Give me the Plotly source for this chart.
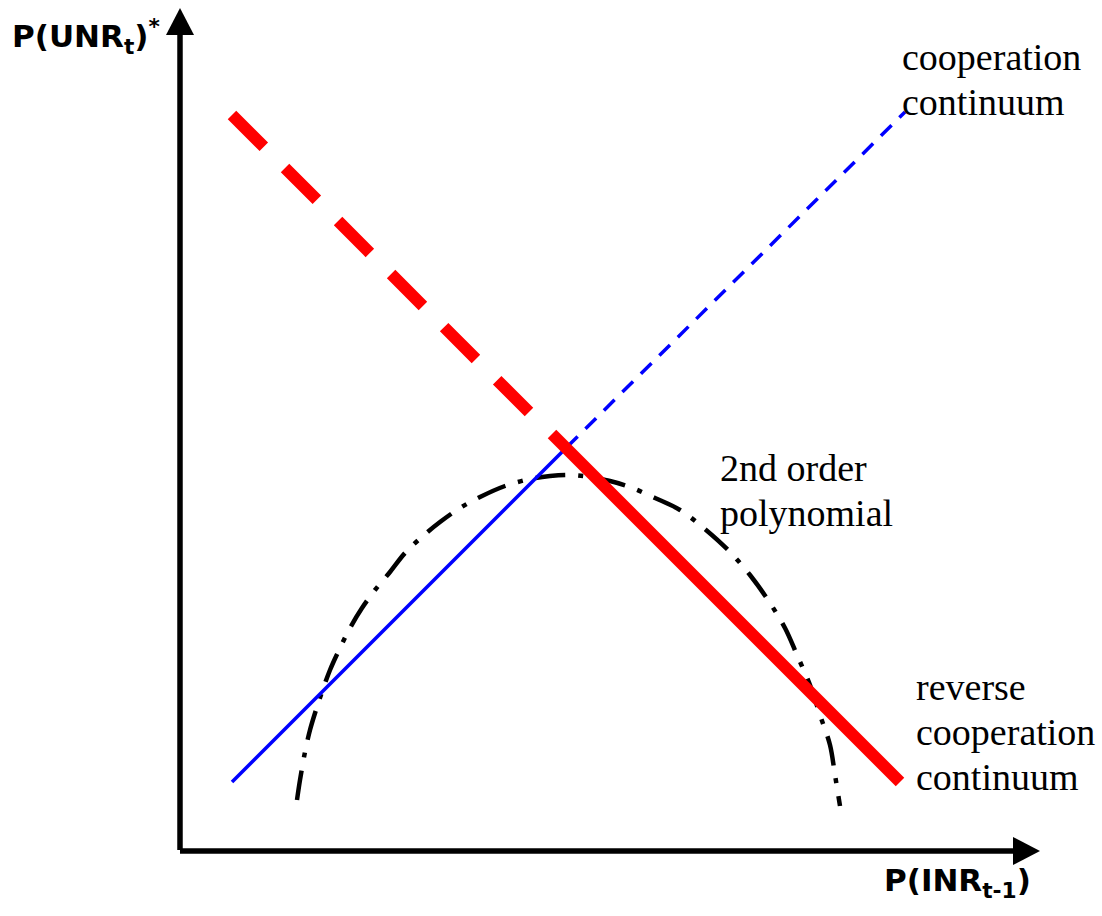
import plotly.graph_objects as go

# ---- data (chart units: origin at axis crossing) ----
blue_solid_x = [0.52, 3.87]
blue_solid_y = [0.70, 4.05]
blue_dash_x = [3.87, 7.25]
blue_dash_y = [4.05, 7.40]

red_dash_x = [0.52, 3.65]
red_dash_y = [7.37, 4.24]
red_solid_x = [3.72, 7.20]
red_solid_y = [4.18, 0.70]

poly_x = [1.17, 1.20, 1.25, 1.30, 1.36, 1.42, 1.50, 1.60, 1.70, 1.82, 1.95, 2.10, 2.25,
          2.43, 2.60, 2.80, 3.00, 3.25, 3.50, 3.70, 3.90, 4.10, 4.30, 4.50, 4.75, 5.00,
          5.26, 5.50, 5.70, 5.88, 6.05, 6.17, 6.30, 6.40, 6.50, 6.55, 6.60]
poly_y = [0.52, 0.72, 1.00, 1.22, 1.42, 1.60, 1.82, 2.04, 2.24, 2.44, 2.62, 2.80, 2.99,
          3.16, 3.30, 3.44, 3.55, 3.66, 3.73, 3.76, 3.77, 3.75, 3.71, 3.65, 3.54, 3.42,
          3.22, 3.00, 2.77, 2.52, 2.24, 1.97, 1.67, 1.37, 1.07, 0.77, 0.46]

labels_coop = ["cooperation", "continuum"]
labels_poly = ["2nd order", "polynomial"]
labels_rev = ["reverse", "cooperation", "continuum"]
y_title = "P(UNR<sub>t</sub>)<sup>*</sup>"
x_title = "P(INR<sub>t-1</sub>)"

fig = go.Figure()

fig.add_trace(go.Scatter(x=poly_x, y=poly_y, mode="lines",
                         line=dict(color="black", width=4.5, shape="spline",
                                   dash="30px,13px,5px,13px")))
fig.add_trace(go.Scatter(x=blue_solid_x, y=blue_solid_y, mode="lines",
                         line=dict(color="#0000ff", width=3.5)))
fig.add_trace(go.Scatter(x=blue_dash_x, y=blue_dash_y, mode="lines",
                         line=dict(color="#0000ff", width=3.5, dash="15px,11px")))
fig.add_trace(go.Scatter(x=red_dash_x, y=red_dash_y, mode="lines",
                         line=dict(color="#ff0000", width=12, dash="45px,30px")))
fig.add_trace(go.Scatter(x=red_solid_x, y=red_solid_y, mode="lines",
                         line=dict(color="#ff0000", width=12)))

# axes with arrowheads
shapes = [
    dict(type="line", x0=0, y0=0.02, x1=0, y1=8.2, line=dict(color="black", width=5.5)),
    dict(type="line", x0=0, y0=0.01, x1=8.35, y1=0.01, line=dict(color="black", width=5.5)),
    dict(type="path", path="M -0.14,8.17 L 0.14,8.17 L 0,8.44 Z",
         fillcolor="black", line=dict(color="black", width=0)),
    dict(type="path", path="M 8.33,0.15 L 8.33,-0.13 L 8.60,0.01 Z",
         fillcolor="black", line=dict(color="black", width=0)),
]

serif = dict(family="Liberation Serif, Times New Roman, serif", size=38, color="black")
bold = dict(family="DejaVu Sans, Verdana, sans-serif", size=31, color="black")

anns = []
for txt, yy in zip(labels_coop, [7.95, 7.50]):
    anns.append(dict(x=7.20, y=yy, text=txt, font=serif))
for txt, yy in zip(labels_poly, [3.84, 3.39]):
    anns.append(dict(x=5.38, y=yy, text=txt, font=serif))
for txt, yy in zip(labels_rev, [1.65, 1.20, 0.75]):
    anns.append(dict(x=7.34, y=yy, text=txt, font=serif))
anns.append(dict(x=-1.70, y=8.16, text="<b>" + y_title + "</b>", font=bold))
anns.append(dict(x=7.02, y=-0.30, text="<b>" + x_title + "</b>", font=bold))
for a in anns:
    a.update(xref="x", yref="y", xanchor="left", yanchor="middle", showarrow=False)

fig.update_layout(
    width=1102, height=916,
    margin=dict(l=0, r=0, t=0, b=0),
    paper_bgcolor="white", plot_bgcolor="white",
    showlegend=False,
    xaxis=dict(range=[-1.80, 9.22], visible=False, fixedrange=True),
    yaxis=dict(range=[-0.64, 8.52], visible=False, fixedrange=True),
    shapes=shapes,
    annotations=anns,
)

fig.write_html("out.html", post_script="document.body.style.margin='0';",
               config={"displayModeBar": False})
